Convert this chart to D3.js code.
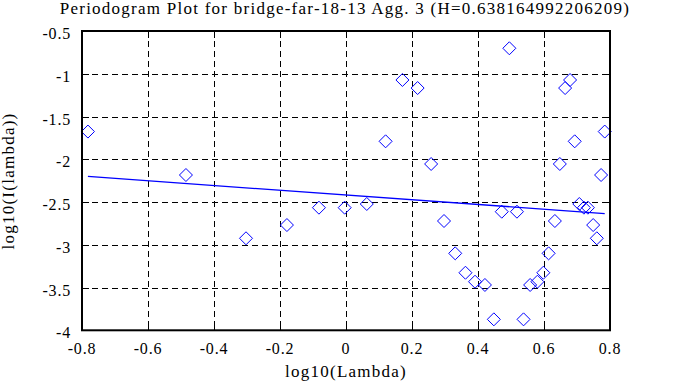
<!DOCTYPE html>
<html lang="en">
<head>
<meta charset="utf-8">
<title>Periodogram Plot</title>
<script src="https://d3js.org/d3.v7.min.js"></script>
<style>
  body { margin: 0; background: #fff; }
  svg text { font-family: "Liberation Serif", "Times New Roman", serif; font-size: 16px; fill: #000; }
  .lbl { font-size: 17px; letter-spacing: 1.25px; }
  .tk { letter-spacing: 0.8px; }
  .grid line { stroke: #000; stroke-width: 1; stroke-dasharray: 6,4; shape-rendering: crispEdges; }
  .tick-in line { stroke: #000; stroke-width: 1; shape-rendering: crispEdges; }
</style>
</head>
<body>
<script>
// log10(Lambda) of each periodogram point
var logLambda = [-0.782, -0.485, -0.303, -0.179, -0.082, -0.004, 0.063, 0.120, 0.171, 0.217,
                 0.258, 0.297, 0.331, 0.362, 0.391, 0.421, 0.448, 0.472, 0.495, 0.518,
                 0.538, 0.558, 0.580, 0.598, 0.614, 0.633, 0.648, 0.664, 0.679, 0.693,
                 0.707, 0.721, 0.733, 0.749, 0.760, 0.773, 0.784];
// log10(I(lambda))
var logI = [-1.676, -2.184, -2.924, -2.769, -2.566, -2.566, -2.523, -1.790, -1.073, -1.167,
            -2.055, -2.722, -3.100, -3.327, -3.432, -3.470, -3.872, -2.613, -0.702, -2.613,
            -3.872, -3.470, -3.432, -3.327, -3.100, -2.722, -2.055, -1.167, -1.073, -1.790,
            -2.523, -2.566, -2.566, -2.769, -2.924, -2.184, -1.676];
// fitted line end points
var fitX = [-0.782, 0.784];
var fitY = [-2.201, -2.635];

var xTicks = [-0.8, -0.6, -0.4, -0.2, 0, 0.2, 0.4, 0.6, 0.8];
var yTicks = [-0.5, -1, -1.5, -2, -2.5, -3, -3.5, -4];
var title = "Periodogram Plot for bridge-far-18-13 Agg. 3 (H=0.638164992206209)";

var w = 683, h = 387;
var pl = 82, pr = 610, pt = 31, pb = 330.3;

var svg = d3.select("body").append("svg")
    .attr("width", w)
    .attr("height", h);

var x = d3.scaleLinear().domain([-0.8, 0.8]).range([pl, pr]);
var y = d3.scaleLinear().domain([-4, -0.5]).range([pb, pt]);

// dashed grid
var grid = svg.append("g").attr("class", "grid");
grid.selectAll(".vx").data(xTicks.slice(1, -1)).enter().append("line")
    .attr("x1", function(d) { return Math.round(x(d)) + 0.5; })
    .attr("x2", function(d) { return Math.round(x(d)) + 0.5; })
    .attr("y1", pt).attr("y2", pb);
grid.selectAll(".hy").data(yTicks.slice(1, -1)).enter().append("line")
    .attr("y1", function(d) { return Math.round(y(d)) + 0.5; })
    .attr("y2", function(d) { return Math.round(y(d)) + 0.5; })
    .attr("x1", pl).attr("x2", pr);

// inward ticks on all four sides
var tl = 7;
var ticks = svg.append("g").attr("class", "tick-in");
xTicks.forEach(function(d) {
    var px = Math.round(x(d)) + 0.5;
    ticks.append("line").attr("x1", px).attr("x2", px).attr("y1", pb).attr("y2", pb - tl);
    ticks.append("line").attr("x1", px).attr("x2", px).attr("y1", pt).attr("y2", pt + tl);
});
yTicks.forEach(function(d) {
    var py = Math.round(y(d)) + 0.5;
    ticks.append("line").attr("y1", py).attr("y2", py).attr("x1", pl).attr("x2", pl + tl);
    ticks.append("line").attr("y1", py).attr("y2", py).attr("x1", pr).attr("x2", pr - tl);
});

// tick labels
svg.selectAll(".xl").data(xTicks).enter().append("text")
    .attr("class", "tk")
    .attr("x", function(d) { return x(d); })
    .attr("y", 354)
    .attr("text-anchor", "middle")
    .text(function(d) { return String(d); });

svg.selectAll(".yl").data(yTicks).enter().append("text")
    .attr("class", "tk")
    .attr("x", 71)
    .attr("y", function(d) { return y(d) + 8; })
    .attr("text-anchor", "end")
    .text(function(d) { return String(d); });

// fitted line
svg.append("path")
    .datum(d3.zip(fitX, fitY))
    .attr("fill", "none")
    .attr("stroke", "#0000ff")
    .attr("stroke-width", 1.3)
    .attr("d", d3.line().x(function(d) { return x(d[0]); }).y(function(d) { return y(d[1]); }));

// diamond markers
var r = 6.5;
svg.selectAll(".pt").data(d3.zip(logLambda, logI)).enter().append("path")
    .attr("fill", "none")
    .attr("stroke", "#0000ff")
    .attr("stroke-width", 1)
    .attr("transform", function(d) { return "translate(" + x(d[0]) + "," + y(d[1]) + ")"; })
    .attr("d", "M0," + (-r) + "L" + r + ",0L0," + r + "L" + (-r) + ",0Z");

// frame
svg.append("rect")
    .attr("x", pl).attr("y", pt)
    .attr("width", pr - pl).attr("height", pb - pt)
    .attr("fill", "none")
    .attr("stroke", "#000")
    .attr("stroke-width", 2);

// titles
svg.append("text")
    .attr("class", "lbl")
    .attr("x", 345).attr("y", 14)
    .attr("text-anchor", "middle")
    .text(title);

svg.append("text")
    .attr("class", "lbl")
    .attr("x", 346).attr("y", 377)
    .attr("text-anchor", "middle")
    .text("log10(Lambda)");

svg.append("text")
    .attr("class", "lbl")
    .attr("transform", "translate(14,181) rotate(-90)")
    .attr("text-anchor", "middle")
    .text("log10(I(lambda))");
</script>
</body>
</html>
